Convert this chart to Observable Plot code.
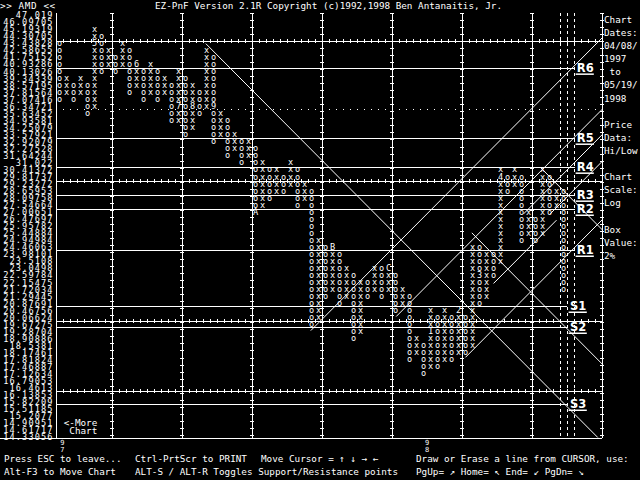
<!DOCTYPE html>
<html><head><meta charset="utf-8">
<script src="https://cdn.jsdelivr.net/npm/d3@7"></script>
<script src="https://cdn.jsdelivr.net/npm/@observablehq/plot@0.6"></script>
<style>
html,body{margin:0;padding:0;background:#000;width:640px;height:480px;overflow:hidden;}
#wrap{position:relative;width:640px;height:480px;}
#chart{position:absolute;left:0;top:0;}
.t{position:absolute;color:#fff;font-family:"DejaVu Sans Mono",monospace;font-size:9.3px;white-space:pre;line-height:13px;}
</style></head><body>
<div id="wrap">
<div id="chart"></div>
<div class="t" style="left:0;top:-1.5px;letter-spacing:0.6px">&gt;&gt; AMD &lt;&lt;</div>
<div class="t" style="left:155px;top:-1.5px">EZ-PnF Version 2.1R Copyright (c)1992,1998 Ben Antanaitis, Jr.</div>
<div class="t" id="panel" style="left:604px;top:13px;line-height:13.1px"></div>
<div class="t" style="left:4px;top:452px">Press ESC to leave...</div>
<div class="t" style="left:135px;top:452px">Ctrl-PrtScr to PRINT</div>
<div class="t" style="left:261px;top:452px">Move Cursor = ↑ ↓ → ←</div>
<div class="t" style="left:416px;top:452px">Draw or Erase a line from CURSOR, use:</div>
<div class="t" style="left:4px;top:465px">Alt-F3 to Move Chart</div>
<div class="t" style="left:135px;top:465px">ALT-S / ALT-R Toggles Support/Resistance points</div>
<div class="t" style="left:416px;top:465px">PgUp= ↗ Home= ↖ End= ↙ PgDn= ↘</div>
</div>
<script>
const priceLabels = ["47.019","46.09705","45.19319","44.30705","43.43828","42.58655","41.75152","40.93286","40.13026","39.34339","38.57195","37.81564","37.07416","36.34721","35.63452","34.93581","34.25079","33.57921","32.92079","32.27528","31.64244","31.022","30.41372","29.81737","29.23272","28.65953","28.09758","27.54664","27.00651","26.47697","25.95782","25.44884","24.94984","24.46063","23.98101","23.5108","23.0498","22.59784","22.15475","21.72034","21.29445","20.87691","20.46756","20.06624","19.67275","19.28704","18.90886","18.5381","18.17461","17.81824","17.46887","17.12634","16.79053","16.4613","16.13853","15.82209","15.51185","15.2077","14.90951","14.61717","14.33056"];

// Point & figure columns: [column, type, top box row, bottom box row]
const pnfColumns = [
 [0,"o",4,12],[1,"x",9,11],[2,"o",10,12],[3,"x",9,11],[4,"o",10,14],[5,"x",2,13],[6,"o",3,8],
 [7,"x",5,7],[8,"o",6,8],[9,"x",4,7],[10,"o",5,11],[11,"x",7,10],[12,"o",8,12],[13,"x",7,11],
 [14,"o",8,12],[15,"x",9,11],[16,"o",10,15],[17,"x",8,15],[18,"o",9,17],[19,"x",10,16],[20,"o",11,14],
 [21,"x",5,13],[22,"o",6,18],[23,"x",14,17],[24,"o",15,20],[25,"x",17,19],[26,"o",18,21],[27,"x",18,20],
 [28,"o",19,28],[29,"x",21,27],[30,"o",22,26],[31,"x",22,25],[32,"o",23,25],[33,"x",21,24],[34,"o",22,27],
 [35,"x",24,26],[36,"o",25,44],[37,"x",32,43],[38,"o",33,40],[39,"x",33,39],[40,"o",34,41],[41,"x",36,40],
 [42,"o",37,46],[43,"x",38,45],[44,"o",38,40],[45,"x",36,39],[46,"o",36,40],[47,"x",36,39],[48,"o",37,42],
 [49,"x",39,41],[50,"o",40,49],[51,"x",46,48],[52,"o",47,51],[53,"x",42,50],[54,"o",43,50],[55,"x",42,49],
 [56,"o",43,49],[57,"x",42,48],[58,"o",43,48],[59,"x",33,47],[60,"o",33,41],[61,"x",34,40],[62,"o",34,37],
 [63,"x",22,35],[64,"o",23,25],[65,"x",22,24],[66,"o",23,32],[67,"x",28,31],[68,"o",29,32],[69,"x",22,31],
 [70,"o",23,28],[71,"x",25,27],[72,"o",25,39]
];
// Month markers: [column, row, month code]
const monthMarks = [[5,4,"5"],[11,7,"6"],[17,13,"7"],[19,13,"8"],[22,13,"9"],[28,28,"A"],[39,33,"B"],[47,36,"C"],[53,45,"1"],[57,42,"2"],[60,37,"3"],[63,23,"4"]];
// Year markers under the time axis: [column, year digits]
const yearMarks = [[0.4,"97"],[52.5,"98"]];

// Support / resistance levels (row positions) and names
const srNames = ["R6","R5","R4","R3","R2","R1","S1","S2","S3"];
const srRows  = [7.54,17.5,21.62,25.6,27.6,33.43,41.39,44.38,55.33];

// Trend lines drawn on the chart: [col1,row1,col2,row2]
const trendLines = [
 [20.9,4.0,76.9,60.0],
 [35.9,44.8,77.5,3.2],
 [48.1,42.8,77.57,13.3],
 [58.0,48.6,77.57,29.0],
 [58.9,30.9,77.57,49.6],
 [68.7,21.6,77.57,30.5],
 [66.3,28.2,77.57,16.9],
 [70.1,28.2,77.57,20.7],
 [62.0,38.1,71.0,29.1]
];

// Grid structure
const gridCols = [-0.43,7.6,17.6,27.6,37.6,47.6,57.6,67.6,77.57];
const gridRows = [3.7,23.6,43.55,53.5];
const dottedRows = [13.3,43.2];
const dottedCols = [71.6,72.6,73.55];

const panelLines = ["Chart","Dates:","04/08/","1997"," to","05/19/","1998","","Price","Data:","Hi/Low","","Chart","Scale:","Log","","Box","Value:","2%"];
document.getElementById("panel").textContent = panelLines.join("\n");

// ---- derived tables ----
const markAt = new Map(monthMarks.map(([c,r,ch]) => [c + ":" + r, ch]));
const colTexts = pnfColumns.map(([c,t,top,bot]) => ({
  c, mid: (top + bot) / 2,
  text: d3.range(top, bot + 1).map(r => markAt.get(c + ":" + r) || t).join("\n")
}));
const sr = srNames.map((n,i) => ({name:n, r:srRows[i], res:n[0]==="R"}));
const lines = trendLines.map(([x1,y1,x2,y2]) => ({x1,y1,x2,y2}));
const vTicks = [];
for (const c of gridCols.slice(1)) for (let r = -1; r <= 59; r++) vTicks.push({c, r: r + 0.7});
const hTicks = [];
for (const r of gridRows) for (let c = -1; c <= 77; c++) hTicks.push({c: c + 0.6, r});
const years = yearMarks.map(([c,s]) => ({c, text: s[0] + "\n" + s[1]}));

const W = "#fff";
const mono = "DejaVu Sans Mono";
const boxFont = 8.6;
const rowPx = 422 / 60;
const chart = Plot.plot({
  width: 640, height: 480,
  marginLeft: 56, marginRight: 38, marginTop: 0, marginBottom: 0,
  style: {background: "#000", color: "#fff", fontFamily: mono},
  x: {domain: [-0.43, 77.57], range: [56, 602], axis: null},
  y: {domain: [0, 60], range: [15, 437], axis: null},
  marks: [
    Plot.axisY(d3.range(61), {anchor: "left", tickSize: 0, tickPadding: 3, tickFormat: i => priceLabels[i], fontSize: 8.6, fontFamily: mono, fill: W}),
    // grid verticals and horizontals
    Plot.ruleX(gridCols, {y1: -0.3, y2: 60.2, stroke: W, shapeRendering: "crispEdges"}),
    Plot.ruleY(vTicks, {y: "r", x1: d => d.c - 0.3, x2: d => d.c + 0.3, stroke: W, shapeRendering: "crispEdges"}),
    Plot.ruleY(gridRows, {x1: -0.43, x2: 77.57, stroke: W, shapeRendering: "crispEdges"}),
    Plot.ruleX(hTicks, {x: "c", y1: d => d.r - 0.3, y2: d => d.r + 0.3, stroke: W, shapeRendering: "crispEdges"}),
    Plot.ruleY([60.2], {x1: -8.4, x2: 77.57, stroke: W, shapeRendering: "crispEdges"}),
    Plot.ruleY(dottedRows, {x1: -0.43, x2: 77.57, stroke: W, strokeDasharray: "1,6", shapeRendering: "crispEdges"}),
    Plot.ruleX(dottedCols, {y1: -0.3, y2: 60.2, stroke: W, strokeDasharray: "3,3", shapeRendering: "crispEdges"}),
    // support / resistance lines
    Plot.ruleY(sr, {y: "r", x1: -0.43, x2: d => d.res ? 73.7 : 72.6, stroke: W, strokeDasharray: d => d.name === "R1" ? "2,3" : "5,3", shapeRendering: "crispEdges"}),
    // trend lines
    Plot.link(lines, {x1: "x1", y1: "y1", x2: "x2", y2: "y2", stroke: W, strokeWidth: 1}),
    // boxes: one stacked text per column, one line per box
    Plot.text(colTexts, {x: "c", y: "mid", text: "text", fill: W, fontSize: boxFont, lineHeight: rowPx / boxFont, fontFamily: mono, textAnchor: "middle", lineAnchor: "middle"}),
    // S/R labels
    Plot.text(sr, {x: d => d.res ? 75.1 : 74.1, y: "r", text: "name", fill: W, fontSize: 11.5, fontWeight: "bold", fontFamily: "DejaVu Sans", textAnchor: "middle", lineAnchor: "middle"}),
    Plot.ruleY(sr, {y: d => d.r + 0.8, x1: d => (d.res ? 75.1 : 74.1) - 1.3, x2: d => (d.res ? 75.1 : 74.1) + 1.3, stroke: W, strokeWidth: 1.5}),
    // year markers and note
    Plot.text(years, {x: "c", y: 61.25, text: "text", fill: W, fontSize: 7, lineHeight: 1, fontFamily: mono, textAnchor: "middle", lineAnchor: "middle"}),
    Plot.text(["<-More\n Chart"], {x: 0.6, y: 58.6, text: d => d, fill: W, fontSize: 9.3, lineHeight: 0.88, fontFamily: mono, textAnchor: "start", lineAnchor: "middle"})
  ]
});
// widen the narrow axis labels to the reference's spacing
d3.select(chart).selectAll('g[aria-label="y-axis tick label"] text').style("letter-spacing", "1.1px");
document.getElementById("chart").appendChild(chart);
</script>
</body></html>
